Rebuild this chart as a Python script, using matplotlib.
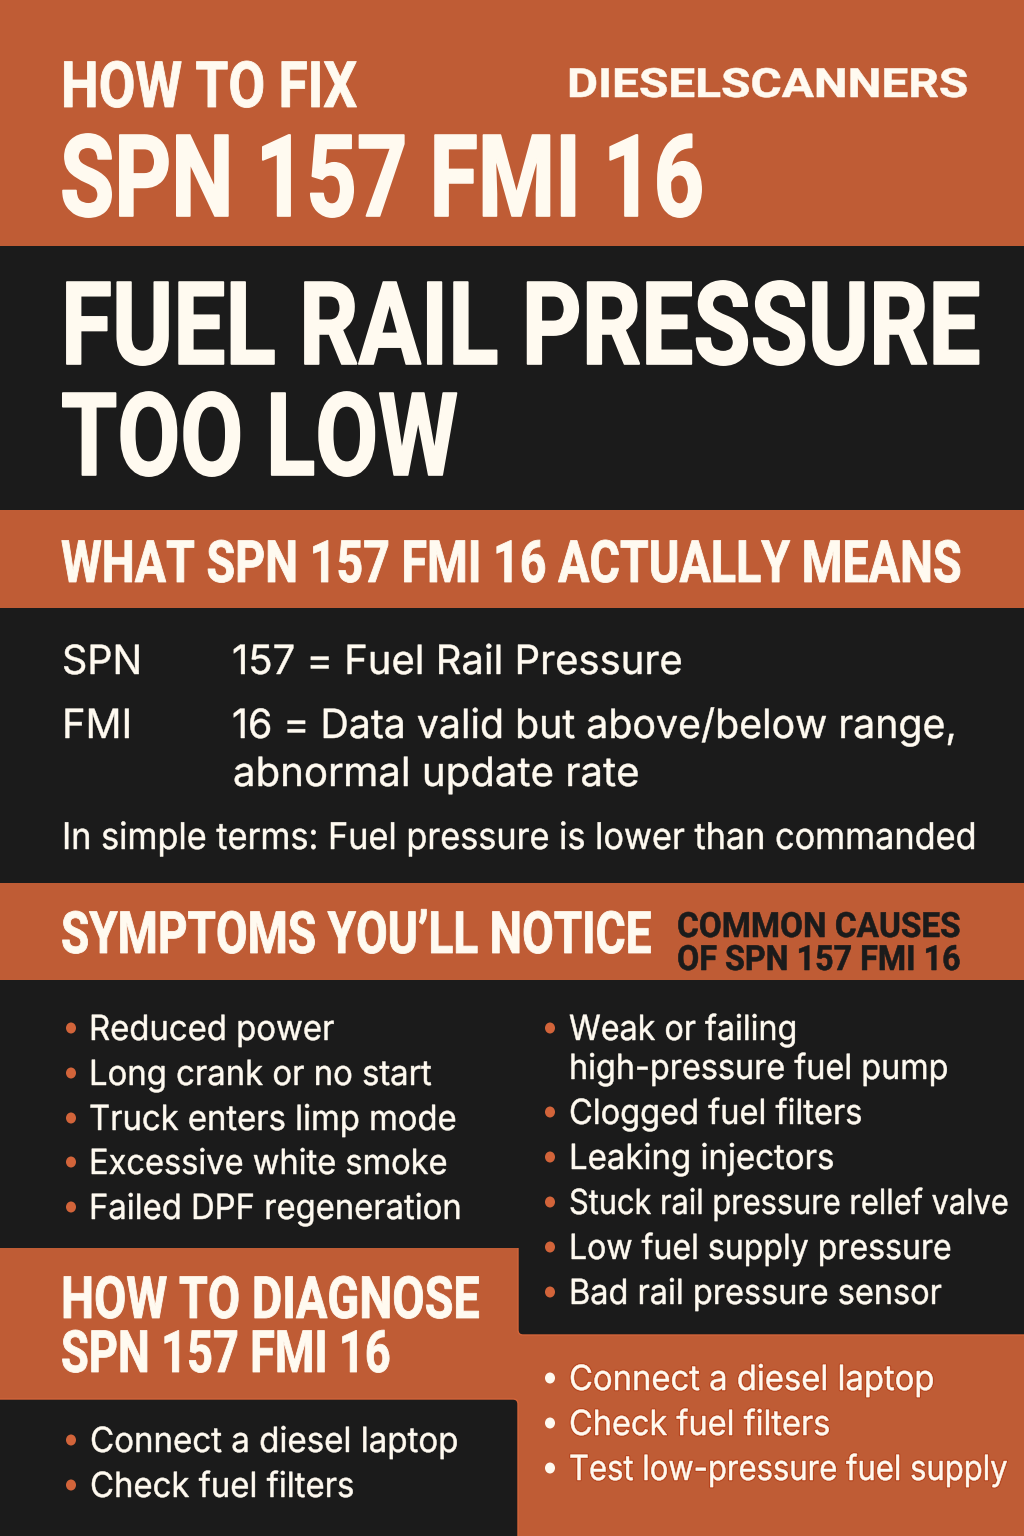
import matplotlib
matplotlib.use("Agg")
import matplotlib.pyplot as plt
import matplotlib.patheffects as pe
from matplotlib.patches import Rectangle, Ellipse, FancyBboxPatch
from matplotlib.transforms import Affine2D

ORANGE = "#bf5c35"
DARK = "#1b1b1b"
CREAM = "#fffaf0"
DOT = "#d2643a"
HALO = "#b5431c"
HEAD = ["Roboto", "DejaVu Sans"]
BODY = ["Inter", "DejaVu Sans"]

title_small = "HOW TO FIX"
title_big = "SPN 157 FMI 16"
brand = "DIESELSCANNERS"
headline = ["FUEL RAIL PRESSURE", "TOO LOW"]
means_head = "WHAT SPN 157 FMI 16 ACTUALLY MEANS"
means_terms = ["SPN", "FMI"]
means_defs = ["157 = Fuel Rail Pressure", "16 = Data valid but above/below range,", "abnormal update rate"]
means_simple = "In simple terms: Fuel pressure is lower than commanded"
symptoms_head = "SYMPTOMS YOU\u2019LL NOTICE"
causes_head = ["COMMON CAUSES", "OF SPN 157 FMI 16"]
symptoms = ["Reduced power", "Long crank or no start", "Truck enters limp mode", "Excessive white smoke", "Failed DPF regeneration"]
causes = ["Weak or failing", "high-pressure fuel pump", "Clogged fuel filters", "Leaking injectors", "Stuck rail pressure rellef valve", "Low fuel supply pressure", "Bad rail pressure sensor"]
diag_head = ["HOW TO DIAGNOSE", "SPN 157 FMI 16"]
diag_left = ["Connect a diesel laptop", "Check fuel filters"]
diag_right = ["Connect a diesel laptop", "Check fuel filters", "Test low-pressure fuel supply"]

fig = plt.figure(figsize=(10.24, 15.36), dpi=100)
ax = fig.add_axes([0, 0, 1, 1])
ax.set_xlim(0, 1024)
ax.set_ylim(1536, 0)
ax.axis("off")
renderer = fig.canvas.get_renderer()


class Squeeze(pe.AbstractPathEffect):
    # squeeze the glyphs sideways round the text's left edge, and fatten them
    def __init__(self, x0, sx, lw, halo=None):
        super().__init__()
        self.x0, self.sx, self.lw, self.halo = x0, sx, lw, halo

    def draw_path(self, renderer, gc, tpath, affine, rgbFace=None):
        aff = affine + Affine2D().translate(-self.x0, 0).scale(self.sx, 1).translate(self.x0, 0)
        gc0 = renderer.new_gc()
        gc0.copy_properties(gc)
        if self.halo:
            gc0.set_linewidth(self.lw + 1.6)
            gc0.set_foreground(self.halo)
            renderer.draw_path(gc0, tpath, aff, rgbFace)
        gc0.set_linewidth(self.lw)
        gc0.set_foreground(rgbFace)
        renderer.draw_path(gc0, tpath, aff, rgbFace)
        gc0.restore()


def band(x0, y0, x1, y1, c):
    ax.add_patch(Rectangle((x0, y0), x1 - x0, y1 - y0, fc=c, ec="none"))


def panel(x0, y0, x1, y1):
    ax.add_patch(FancyBboxPatch((x0, y0), x1 - x0, y1 - y0, boxstyle="round,pad=0,rounding_size=5",
                                fc=DARK, ec=DOT, lw=1))


def txt(x, base, right, s, size, c=CREAM, fam=BODY, w="normal", lw=0.35, halo=None):
    t = ax.text(x, base, s, fontsize=size, color=c, family=fam, weight=w, ha="left", va="baseline")
    bb = t.get_window_extent(renderer)
    t.set_path_effects([Squeeze(bb.x0, (right - x) / bb.width, lw, halo)])
    return t


def bullet(x, y, c):
    ax.add_patch(Ellipse((x, y), 10, 11, fc=c, ec="none"))


band(0, 0, 1024, 1536, DARK)
band(0, 0, 1024, 246, ORANGE)
band(0, 510, 1024, 608, ORANGE)
band(0, 1248, 1024, 1536, ORANGE)
panel(518, 970, 1100, 1335)
panel(-100, 1399, 518, 1600)
band(0, 975, 522, 1248, DARK)
band(0, 883, 1024, 980, ORANGE)

txt(61, 107, 357, title_small, 46, fam=HEAD, w="bold", lw=0.6)
txt(60, 216, 704, title_big, 82, fam=HEAD, w="bold", lw=1.2)
txt(567, 97, 967, brand, 29, fam=HEAD, w="bold", lw=0.4)
txt(61, 364, 981, headline[0], 83, fam=HEAD, w="bold", lw=1.2)
txt(61, 475, 458, headline[1], 83, fam=HEAD, w="bold", lw=1.2)
txt(61, 582, 962, means_head, 42, fam=HEAD, w="bold", lw=0.6)

txt(62, 674, 142, means_terms[0], 29)
txt(62, 738, 132, means_terms[1], 29)
txt(232, 674, 683, means_defs[0], 29)
txt(232, 738, 957, means_defs[1], 29)
txt(233, 786, 640, means_defs[2], 29)
txt(62, 849, 978, means_simple, 26.5)

txt(61, 953, 652, symptoms_head, 42, fam=HEAD, w="bold", lw=0.6)
txt(677, 937, 961, causes_head[0], 25, c=DARK, fam=HEAD, w="bold", lw=0.4)
txt(677, 970, 961, causes_head[1], 25, c=DARK, fam=HEAD, w="bold", lw=0.4)

sym_base = [1040, 1085, 1130, 1174, 1219]
sym_dot = [1028, 1073, 1118, 1162, 1207]
sym_right = [334, 431, 456, 447, 461]
for s, b, d, r in zip(symptoms, sym_base, sym_dot, sym_right):
    bullet(71, d, DOT)
    txt(89, b, r, s, 25)

cause_base = [1040, 1079, 1124, 1169, 1214, 1259, 1304]
cause_right = [797, 948, 862, 834, 1008, 951, 941]
cause_dot = [1028, None, 1112, 1157, 1202, 1247, 1292]
for s, b, d, r in zip(causes, cause_base, cause_dot, cause_right):
    if d is not None:
        bullet(550, d, DOT)
    txt(569, b, r, s, 25)

txt(61, 1318, 480, diag_head[0], 42, fam=HEAD, w="bold", lw=0.6)
txt(61, 1372, 391, diag_head[1], 42, fam=HEAD, w="bold", lw=0.6)

for s, d, r in zip(diag_left, [1440, 1485], [458, 354]):
    bullet(71, d, DOT)
    txt(90, d + 12, r, s, 25)
for s, d, r in zip(diag_right, [1378, 1423, 1468], [934, 830, 1007]):
    bullet(550, d, CREAM)
    txt(569, d + 12, r, s, 25, halo=HALO)

fig.savefig("out.png", dpi=100)
